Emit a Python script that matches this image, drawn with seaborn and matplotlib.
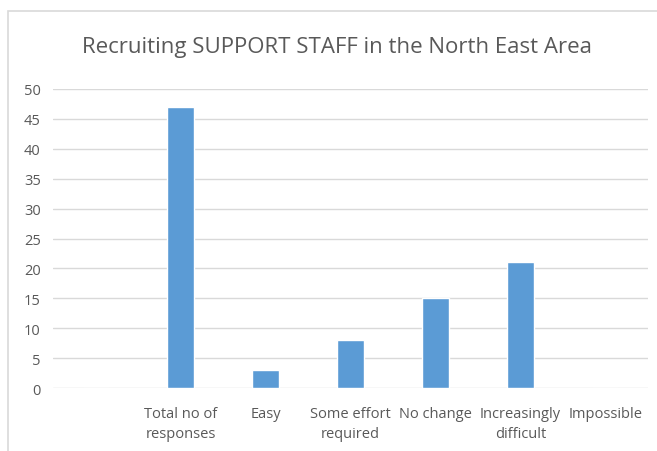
import pandas as pd
import matplotlib.pyplot as plt
import seaborn as sns
from matplotlib.patches import Rectangle

# Datos
categorias = ["", "Total no of\nresponses", "Easy", "Some effort\nrequired",
              "No change", "Increasingly\ndifficult", "Impossible"]
valores = [0, 47, 3, 8, 15, 21, 0]

df = pd.DataFrame({"cat": categorias, "val": valores})

sns.set_style("white")
plt.rcParams['font.family'] = ['Open Sans', 'DejaVu Sans']

fig = plt.figure(figsize=(6.57, 4.52), dpi=100)
ax = fig.add_axes([0.081, 0.139, 0.905, 0.662])

sns.barplot(data=df, x="cat", y="val", color="#5b9bd5", width=0.31,
            saturation=1, ax=ax)

ax.set_ylim(0, 50)
ax.set_yticks(range(0, 51, 5))
ax.set_xlim(-0.5, len(categorias) - 0.5)
ax.yaxis.grid(True, color="#d9d9d9", linewidth=1)
ax.set_axisbelow(True)
for s in ax.spines.values():
    s.set_visible(False)
ax.set_xlabel("")
ax.set_ylabel("")
ax.tick_params(axis="both", length=0, colors="#595959", labelsize=10.5)
ax.tick_params(axis="x", pad=13)
ax.tick_params(axis="y", pad=9)
for lab in ax.get_xticklabels():
    lab.set_linespacing(1.45)

# Marco del grafico
fig.patches.append(Rectangle((8 / 657, -0.1), 1.2, 1 - 12 / 452 + 0.1,
                             transform=fig.transFigure, fill=False,
                             edgecolor="#d9d9d9", linewidth=1.2))

fig.text(337 / 657, 1 - 48 / 452, "Recruiting SUPPORT STAFF in the North East Area",
         ha="center", va="center", fontsize=16, color="#595959")

fig.savefig("out.png", dpi=100)
